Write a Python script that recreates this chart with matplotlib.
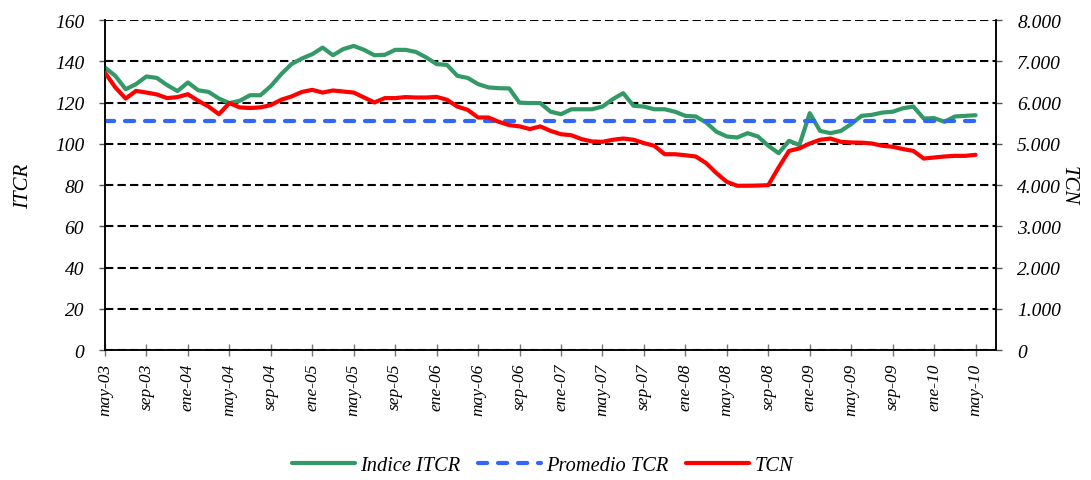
""" ITCR vs TCN chart, may-03 to may-10
"""

import matplotlib
matplotlib.use('Agg')
import matplotlib.pyplot as plt
import matplotlib.transforms as mtransforms
from matplotlib.ticker import FuncFormatter


# monthly values, may-03 .. may-10
itcr = [137, 133, 126.5, 129, 132.7, 132, 128.5, 125.6, 129.8, 126, 125.2, 122,
        119.8, 120.9, 123.6, 123.6, 128, 133.8, 138.7, 141.4, 143.5, 146.7, 143,
        146, 147.5, 145.6, 143, 143.2, 145.6, 145.6, 144.6, 141.9, 138.7, 138.3,
        133, 132, 129, 127.4, 127, 126.9, 120, 119.8, 119.8, 115.6, 114.4, 116.8,
        116.8, 116.8, 118.1, 121.7, 124.6, 118.5, 118.1, 116.8, 116.8, 115.6,
        113.6, 113.3, 110.4, 105.9, 103.6, 103.1, 105.2, 103.6, 99.1, 95.5, 101.5,
        99.4, 114.9, 106.3, 105.2, 106.3, 109.6, 113.6, 114.1, 115.2, 115.6,
        117.3, 118.1, 112.3, 112.5, 110.7, 113.3, 113.6, 113.9]

tcn = [6730, 6370, 6100, 6285, 6245, 6200, 6110, 6135, 6205, 6045, 5905, 5720,
       5990, 5885, 5870, 5885, 5940, 6070, 6150, 6260, 6310, 6245, 6295, 6270,
       6245, 6125, 6005, 6110, 6110, 6135, 6125, 6125, 6140, 6070, 5905, 5825,
       5640, 5640, 5535, 5455, 5425, 5360, 5425, 5315, 5235, 5210, 5115, 5060,
       5050, 5100, 5130, 5100, 5020, 4955, 4750, 4750, 4725, 4695, 4535, 4290,
       4080, 3985, 3985, 3990, 4000, 4430, 4830, 4890, 5010, 5100, 5130, 5050,
       5035, 5030, 5010, 4955, 4930, 4875, 4830, 4645, 4670, 4695, 4710, 4710,
       4735]

promedio_tcr = 111.0

tick_labels = ['may-03', 'sep-03', 'ene-04', 'may-04', 'sep-04', 'ene-05',
               'may-05', 'sep-05', 'ene-06', 'may-06', 'sep-06', 'ene-07',
               'may-07', 'sep-07', 'ene-08', 'may-08', 'sep-08', 'ene-09',
               'may-09', 'sep-09', 'ene-10', 'may-10']

FONT = 'Liberation Serif'
GREEN = '#339966'
BLUE = '#3366FF'
RED = '#FF0000'


def _thousands(val, pos):
    return '{:,.0f}'.format(val).replace(',', '.')


def plot_chart():
    months = list(range(len(itcr)))

    fig = plt.figure(figsize=(10.91, 4.81), dpi=100)
    ax = fig.add_axes([0.0962, 0.27, 0.817, 0.686])
    ax2 = ax.twinx()

    ax.set_axisbelow(True)
    ax.yaxis.grid(True, color='black', linestyle=(0, (4, 2)), linewidth=1.5)

    l1, = ax.plot(months, itcr, color=GREEN, linewidth=3,
                  solid_joinstyle='round', solid_capstyle='round',
                  label='Indice ITCR', zorder=3)
    l2, = ax.plot(months, [promedio_tcr] * len(months), color=BLUE, linewidth=3,
                  dashes=(2.2, 2.6), dash_capstyle='round',
                  label='Promedio TCR', zorder=3)
    l3, = ax2.plot(months, tcn, color=RED, linewidth=3,
                   solid_joinstyle='round', solid_capstyle='round',
                   label='TCN', zorder=3)

    ax.set_xlim(0, 86)
    ax.set_ylim(0, 160)
    ax2.set_ylim(0, 8000)
    ax.set_yticks(range(0, 161, 20))
    ax2.set_yticks(range(0, 8001, 1000))
    ax2.yaxis.set_major_formatter(FuncFormatter(_thousands))

    ax.set_xticks(range(0, len(itcr), 4))
    ax.set_xticklabels(tick_labels, rotation=90, ha='center', va='top')
    offset = mtransforms.ScaledTranslation(0.06, 0, fig.dpi_scale_trans)
    for lab in ax.get_xticklabels():
        lab.set_transform(lab.get_transform() + offset)

    for a in (ax, ax2):
        a.spines['top'].set_visible(False)
        for side in ('left', 'right', 'bottom'):
            a.spines[side].set_color('black')
            a.spines[side].set_linewidth(1.1)

    ax.tick_params(axis='y', direction='out', length=4, width=1,
                   color='#555555', pad=11, labelsize=14)
    ax2.tick_params(axis='y', direction='out', length=4, width=1,
                    color='#555555', pad=11, labelsize=14)
    ax.tick_params(axis='x', direction='inout', length=8, width=1,
                   color='#777777', pad=5, labelsize=12.5)

    for lab in ax.get_xticklabels() + ax.get_yticklabels() + ax2.get_yticklabels():
        lab.set_fontfamily(FONT)
        lab.set_fontstyle('italic')

    ax.set_ylabel('ITCR', fontfamily=FONT, fontstyle='italic', fontsize=15,
                  labelpad=16)
    ax2.set_ylabel('TCN', fontfamily=FONT, fontstyle='italic', fontsize=15,
                   rotation=270, labelpad=12)

    fig.legend(handles=[l1, l2, l3], loc='center', bbox_to_anchor=(0.497, 0.03),
               ncol=3, frameon=False, handlelength=3.1, handletextpad=0.25,
               columnspacing=0.85,
               prop={'family': FONT, 'style': 'italic', 'size': 14.7})

    fig.savefig('out.png', dpi=100)


plot_chart()
